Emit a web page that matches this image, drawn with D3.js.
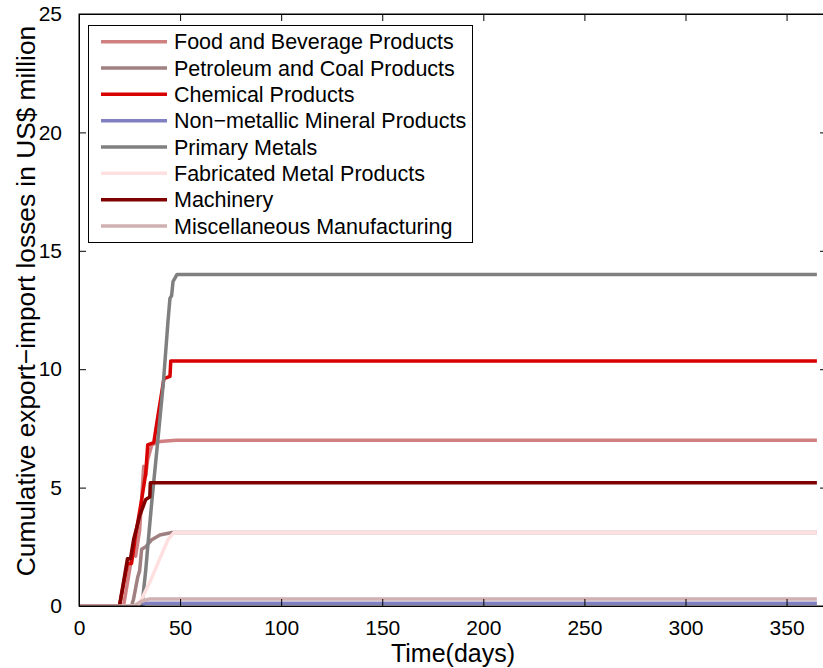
<!DOCTYPE html>
<html>
<head>
<meta charset="utf-8">
<script src="https://cdn.jsdelivr.net/npm/d3@7"></script>
<style>
  body { margin: 0; background: #fff; }
  text { font-family: "Liberation Sans", Arial, Helvetica, sans-serif; fill: #000; }
</style>
</head>
<body>
<svg width="823" height="668"></svg>
<script>
// sector names, in legend (and drawing) order
var sectors = ["Food and Beverage Products", "Petroleum and Coal Products", "Chemical Products",
  "Non\u2212metallic Mineral Products", "Primary Metals", "Fabricated Metal Products",
  "Machinery", "Miscellaneous Manufacturing"];
var colors = ["#d08080", "#a08080", "#d80000", "#8080c0", "#808080", "#ffe0e0", "#800000", "#d0b0b0"];

// cumulative losses: days and values per sector
var foodDays = [0, 22, 25, 27, 28, 30, 32, 33, 34, 36, 40, 48, 365];
var foodVals = [0, 0, 1.5, 2.6, 2.1, 3.2, 5.9, 5.5, 6.2, 6.8, 6.95, 7.0, 7.0];
var petroDays = [0, 26, 27, 29, 30, 31, 33, 36, 40, 46, 365];
var petroVals = [0, 0, 0.3, 1.2, 1.5, 2.4, 2.5, 2.8, 3.0, 3.1, 3.1];
var chemDays = [0, 20, 24, 26, 28, 31, 33, 34, 37, 39, 42, 45, 45.4, 365];
var chemVals = [0, 0, 1.8, 1.8, 3.0, 4.5, 5.6, 6.8, 6.9, 8.0, 9.6, 9.7, 10.35, 10.35];
var mineralDays = [0, 30, 33, 365];
var mineralVals = [0, 0, 0.12, 0.12];
var metalDays = [0, 30, 31.5, 33, 34, 36, 39, 41.7, 44, 45, 45.8, 46.5, 48.5, 365];
var metalVals = [0, 0, 0.3, 1.5, 2.5, 4.4, 7.0, 9.4, 12.0, 13.0, 13.1, 13.7, 14.0, 14.0];
var fabDays = [0, 29, 31, 35, 40, 44, 47, 365];
var fabVals = [0, 0, 0.3, 1.0, 2.0, 2.8, 3.1, 3.1];
var machDays = [0, 20, 24, 25.5, 27, 30, 33, 35, 35.3, 365];
var machVals = [0, 0, 2.0, 2.0, 2.8, 3.8, 4.5, 4.6, 5.2, 5.2];
var miscDays = [0, 27, 31, 35, 365];
var miscVals = [0, 0, 0.2, 0.3, 0.3];

var xTicks = [0, 50, 100, 150, 200, 250, 300, 350];
var yTicks = [0, 5, 10, 15, 20, 25];

var seriesDays = [foodDays, petroDays, chemDays, mineralDays, metalDays, fabDays, machDays, miscDays];
var seriesVals = [foodVals, petroVals, chemVals, mineralVals, metalVals, fabVals, machVals, miscVals];

var series = sectors.map(function(name, i) {
  return { name: name, color: colors[i],
    points: seriesDays[i].map(function(d, j) { return [d, seriesVals[i][j]]; }) };
});

var svg = d3.select("svg");
var mLeft = 79, mRight = 827, mTop = 14, mBottom = 606;

var x = d3.scaleLinear().domain([0, 370]).range([mLeft, mRight]);
var y = d3.scaleLinear().domain([0, 25]).range([mBottom, mTop]);

var line = d3.line()
  .x(function(p) { return x(p[0]); })
  .y(function(p) { return y(p[1]); });

svg.append("clipPath").attr("id", "plot")
  .append("rect").attr("x", mLeft).attr("y", mTop).attr("width", mRight - mLeft).attr("height", mBottom - mTop);

svg.append("g").attr("clip-path", "url(#plot)")
  .selectAll("path")
  .data(series)
  .enter().append("path")
    .attr("d", function(d) { return line(d.points); })
    .attr("fill", "none")
    .attr("stroke", function(d) { return d.color; })
    .attr("stroke-width", 3.5)
    .attr("stroke-linejoin", "round");

// matlab style box with inward ticks on all sides
var tl = 7;
svg.append("g")
  .attr("transform", "translate(0," + mBottom + ")")
  .call(d3.axisBottom(x).tickValues(xTicks).tickSizeInner(-tl).tickSizeOuter(0).tickPadding(14))
  .call(function(g) { g.selectAll("text").attr("font-size", 21).attr("dy", "0.71em"); });
svg.append("g")
  .attr("transform", "translate(0," + mTop + ")")
  .call(d3.axisTop(x).tickValues(xTicks).tickSizeInner(-tl).tickSizeOuter(0).tickFormat(""));
svg.append("g")
  .attr("transform", "translate(" + mLeft + ",0)")
  .call(d3.axisLeft(y).tickValues(yTicks).tickSizeInner(-tl).tickSizeOuter(0).tickPadding(17))
  .call(function(g) { g.selectAll("text").attr("font-size", 21); });
svg.append("g")
  .attr("transform", "translate(" + mRight + ",0)")
  .call(d3.axisRight(y).tickValues(yTicks).tickSizeInner(-tl).tickSizeOuter(0).tickFormat(""));
svg.selectAll(".domain").attr("stroke", "#000");
svg.selectAll(".tick line").attr("stroke", "#000");

svg.append("rect")
  .attr("x", mLeft).attr("y", mTop).attr("width", mRight - mLeft).attr("height", mBottom - mTop)
  .attr("fill", "none").attr("stroke", "#000").attr("stroke-width", 1);

svg.append("text")
  .attr("x", (mLeft + mRight) / 2).attr("y", 662)
  .attr("text-anchor", "middle").attr("font-size", 25)
  .text("Time(days)");

svg.append("text")
  .attr("transform", "translate(35,301) rotate(-90)")
  .attr("text-anchor", "middle").attr("font-size", 26.3)
  .text("Cumulative export\u2212import losses in US$ million");

// legend
var lg = svg.append("g");
lg.append("rect")
  .attr("x", 88.5).attr("y", 25.5).attr("width", 384).attr("height", 217)
  .attr("fill", "#fff").attr("stroke", "#000");
var item = lg.selectAll("g.item")
  .data(series)
  .enter().append("g")
    .attr("class", "item")
    .attr("transform", function(d, i) { return "translate(0," + (41.7 + i * 26.33) + ")"; });
item.append("line")
  .attr("x1", 101).attr("x2", 167)
  .attr("stroke", function(d) { return d.color; })
  .attr("stroke-width", 3.5);
item.append("text")
  .attr("x", 174).attr("dy", "0.36em")
  .attr("font-size", 21.5)
  .text(function(d) { return d.name; });
</script>
</body>
</html>
